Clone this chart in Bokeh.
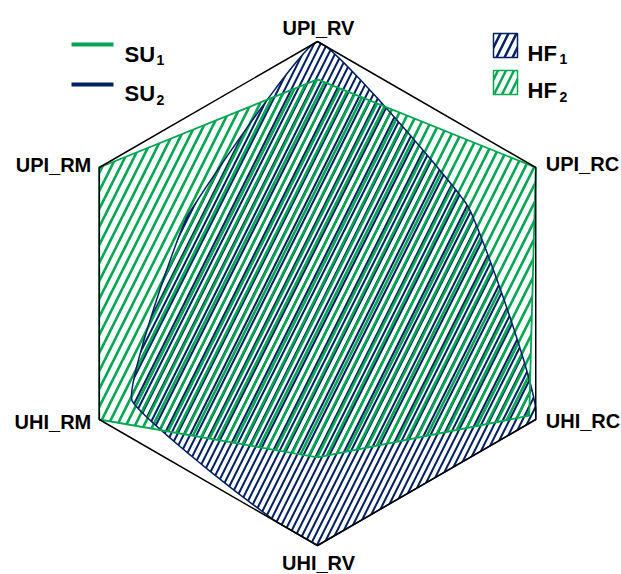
import numpy as np
from bokeh.plotting import figure
from bokeh.models import Range1d
from bokeh.core.properties import value
from bokeh.embed import file_html
from bokeh.resources import INLINE

# ---------------- data ----------------
categories = ["UPI_RV", "UPI_RC", "UHI_RC", "UHI_RV", "UHI_RM", "UPI_RM"]
hf1 = [1.00, 0.69, 1.00, 1.00, 0.85, 0.60]
hf2 = [0.85, 1.00, 0.97, 0.65, 1.00, 1.00]
su1 = [0.85, 1.00, 0.97, 0.65, 1.00, 1.00]
su2 = [1.00, 0.69, 1.00, 1.00, 0.85, 0.60]
axis_max = 1.0

GREEN = "#00A651"
NAVY = "#002060"
FONT = value("Liberation Sans")

# ---------------- geometry ----------------
W, H = 621, 574
PX = 252.0              # pixels per unit radius
CX, CY = 317.0, 293.0   # centre on the canvas (px)

angles = np.deg2rad(90 - 60 * np.arange(len(categories)))


def polar(vals):
    r = np.asarray(vals, dtype=float)
    return r * np.cos(angles), r * np.sin(angles)


def smooth(xv, yv, s=0.15, n=24):
    """closed cardinal spline through the vertices"""
    P = np.column_stack([xv, yv])
    k = len(P)
    out = []
    t = np.linspace(0, 1, n, endpoint=False)[:, None]
    h00 = 2 * t**3 - 3 * t**2 + 1
    h10 = t**3 - 2 * t**2 + t
    h01 = -2 * t**3 + 3 * t**2
    h11 = t**3 - t**2
    for i in range(k):
        a, b = P[i], P[(i + 1) % k]
        ma = s * (P[(i + 1) % k] - P[(i - 1) % k])
        mb = s * (P[(i + 2) % k] - P[i])
        out.append(h00 * a + h10 * ma + h01 * b + h11 * mb)
    return np.vstack(out)


def clip(poly, cpoly):
    """Sutherland-Hodgman clip of poly against convex cpoly"""
    area = np.sum(cpoly[:, 0] * np.roll(cpoly[:, 1], -1) - np.roll(cpoly[:, 0], -1) * cpoly[:, 1])
    sgn = 1.0 if area > 0 else -1.0
    out = list(map(tuple, poly))
    m = len(cpoly)
    for i in range(m):
        a, b = cpoly[i], cpoly[(i + 1) % m]
        inp, out = out, []

        def side(p):
            return sgn * ((b[0] - a[0]) * (p[1] - a[1]) - (b[1] - a[1]) * (p[0] - a[0]))

        for j in range(len(inp)):
            cur, prev = inp[j], inp[j - 1]
            sc, sp = side(cur), side(prev)
            if sc >= 0:
                if sp < 0:
                    tt = sp / (sp - sc)
                    out.append((prev[0] + tt * (cur[0] - prev[0]), prev[1] + tt * (cur[1] - prev[1])))
                out.append(cur)
            elif sp >= 0:
                tt = sp / (sp - sc)
                out.append((prev[0] + tt * (cur[0] - prev[0]), prev[1] + tt * (cur[1] - prev[1])))
    return np.array(out)


def sx(px):   # canvas pixel x -> data
    return (px - CX) / PX


def sy(py):   # canvas pixel y -> data
    return (CY - py) / PX


p = figure(width=W, height=H,
           x_range=Range1d(-CX / PX, (W - CX) / PX),
           y_range=Range1d(-(H - CY) / PX, CY / PX),
           x_axis_type=None, y_axis_type=None,
           output_backend="svg", toolbar_location=None, min_border=0)
p.outline_line_color = None
p.background_fill_color = "white"

hx, hy = polar([axis_max] * len(categories))
hexagon = np.column_stack([hx, hy])

# hatched areas
nav = clip(smooth(*polar(hf1)), hexagon)
grn = np.column_stack(polar(hf2))
p.patch(nav[:, 0], nav[:, 1], fill_alpha=0, line_color=None,
        hatch_pattern="/", hatch_color=NAVY, hatch_scale=13, hatch_weight=2.0)
p.patch(grn[:, 0], grn[:, 1], fill_alpha=0, line_color=None,
        hatch_pattern="/", hatch_color=GREEN, hatch_scale=18, hatch_weight=2.6)

# outline lines
l2 = clip(smooth(*polar(su2)), hexagon)
l1 = np.column_stack(polar(su1))
p.line(list(l2[:, 0]) + [l2[0, 0]], list(l2[:, 1]) + [l2[0, 1]], line_color=NAVY, line_width=1.5)
p.line(list(l1[:, 0]) + [l1[0, 0]], list(l1[:, 1]) + [l1[0, 1]], line_color=GREEN, line_width=1.8)

# hexagon frame
p.line(list(hx) + [hx[0]], list(hy) + [hy[0]], line_color="black", line_width=1.5)

# axis labels
lab_kw = dict(text_font=FONT, text_font_style="bold", text_font_size="20px", text_color="black")
p.text([hx[0]], [hy[0]], text=[categories[0]], x_offset=1, y_offset=-14,
       text_align="center", text_baseline="alphabetic", **lab_kw)
p.text([hx[3]], [hy[3]], text=[categories[3]], x_offset=1, y_offset=17,
       text_align="center", text_baseline="alphabetic", **lab_kw)
p.text([hx[1], hx[2]], [hy[1], hy[2]], text=[categories[1], categories[2]],
       x_offset=10, y_offset=[-4, 1], text_align="left", text_baseline="middle", **lab_kw)
p.text([hx[5], hx[4]], [hy[5], hy[4]], text=[categories[5], categories[4]],
       x_offset=-8, y_offset=[-3, 2], text_align="right", text_baseline="middle", **lab_kw)

# ---------------- legend (manual, for subscripts) ----------------
leg_kw = dict(text_font=FONT, text_font_style="bold", text_color="black")
p.segment(x0=[sx(71), sx(71)], y0=[sy(44), sy(84)], x1=[sx(113), sx(113)], y1=[sy(44), sy(84)],
          line_color=[GREEN, NAVY], line_width=4)
p.text([sx(124), sx(124)], [sy(54), sy(93)], text=["SU", "SU"],
       text_font_size="22px", text_baseline="alphabetic", **leg_kw)
p.text([sx(156), sx(156)], [sy(59), sy(99)], text=["1", "2"],
       text_font_size="14px", text_baseline="alphabetic", **leg_kw)
p.quad(left=[sx(493)], right=[sx(517)], top=[sy(33)], bottom=[sy(57)],
       fill_alpha=0, line_color=NAVY, line_width=1.5,
       hatch_pattern="/", hatch_color=NAVY, hatch_scale=16, hatch_weight=2.5)
p.quad(left=[sx(493)], right=[sx(517)], top=[sy(70)], bottom=[sy(94)],
       fill_alpha=0, line_color=GREEN, line_width=1.5,
       hatch_pattern="/", hatch_color=GREEN, hatch_scale=16, hatch_weight=2.5)
p.text([sx(527), sx(527)], [sy(53), sy(90)], text=["HF", "HF"],
       text_font_size="22px", text_baseline="alphabetic", **leg_kw)
p.text([sx(559), sx(559)], [sy(58), sy(96)], text=["1", "2"],
       text_font_size="14px", text_baseline="alphabetic", **leg_kw)

open("out.html", "w").write(file_html(p, INLINE))
